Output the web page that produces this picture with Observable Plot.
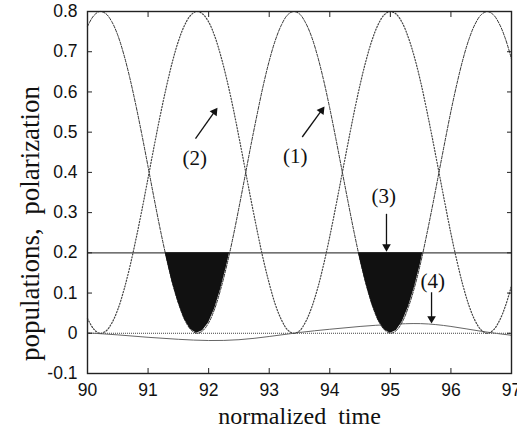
<!DOCTYPE html>
<html><head><meta charset="utf-8">
<script src="https://cdn.jsdelivr.net/npm/d3@7"></script>
<script src="https://cdn.jsdelivr.net/npm/@observablehq/plot@0.6"></script>
<style>body{margin:0;background:#fff}</style>
</head><body><div id="chart"></div>
<script>
// sample times (normalized time)
const times = [90.0,90.1,90.2,90.3,90.4,90.5,90.6,90.7,90.8,90.9,
  91.0,91.1,91.2,91.3,91.4,91.5,91.6,91.7,91.8,91.9,
  92.0,92.1,92.2,92.3,92.4,92.5,92.6,92.7,92.8,92.9,
  93.0,93.1,93.2,93.3,93.4,93.5,93.6,93.7,93.8,93.9,
  94.0,94.1,94.2,94.3,94.4,94.5,94.6,94.7,94.8,94.9,
  95.0,95.1,95.2,95.3,95.4,95.5,95.6,95.7,95.8,95.9,
  96.0,96.1,96.2,96.3,96.4,96.5,96.6,96.7,96.8,96.9,97.0];
// curve (1): population, dashed
const curve1 = [0.763,0.789,0.800,0.795,0.775,0.741,0.693,0.634,0.566,0.492,
  0.414,0.335,0.259,0.189,0.126,0.075,0.035,0.010,0.000,0.006,
  0.026,0.061,0.110,0.169,0.237,0.312,0.390,0.469,0.544,0.615,
  0.677,0.728,0.766,0.791,0.800,0.794,0.772,0.737,0.688,0.628,
  0.559,0.484,0.406,0.328,0.252,0.182,0.121,0.070,0.032,0.009,
  0.000,0.007,0.029,0.066,0.115,0.175,0.245,0.320,0.398,0.476,
  0.552,0.621,0.682,0.732,0.769,0.792,0.800,0.792,0.769,0.732,0.682];
// curve (2): population, dotted
const curve2 = [0.037,0.011,0.000,0.005,0.025,0.059,0.107,0.166,0.234,0.308,
  0.386,0.465,0.541,0.611,0.674,0.726,0.765,0.790,0.800,0.794,
  0.774,0.739,0.690,0.631,0.563,0.488,0.410,0.331,0.256,0.185,
  0.124,0.072,0.034,0.009,0.000,0.006,0.028,0.064,0.112,0.172,
  0.241,0.316,0.394,0.472,0.548,0.618,0.679,0.730,0.768,0.792,
  0.800,0.793,0.771,0.734,0.685,0.625,0.555,0.480,0.402,0.324,
  0.248,0.179,0.118,0.068,0.031,0.008,0.000,0.008,0.031,0.068,0.118];
// curve (4): polarization
const times4 = [90.0,90.5,91.0,91.5,92.0,92.5,93.0,93.5,94.0,94.5,95.0,95.5,96.0,96.5,97.0];
const curve4 = [0.001,-0.004,-0.010,-0.015,-0.018,-0.016,-0.008,0.002,0.010,0.017,0.022,0.024,0.017,0.005,-0.005];
// threshold line (3)
const threshold = 0.2;

const xTicks = [90,91,92,93,94,95,96,97];
const yTicks = [-0.1,0,0.1,0.2,0.3,0.4,0.5,0.6,0.7,0.8];

// annotations: label text, label anchor, arrow start, arrow tip (data coords)
const annLabels = ["(1)","(2)","(3)","(4)"];
const annLabelX = [93.43,91.77,94.89,95.70];
const annLabelY = [0.440,0.435,0.340,0.129];
const annArrowX1 = [93.545,91.783,94.936,95.680];
const annArrowY1 = [0.488,0.484,0.297,0.102];
const annArrowX2 = [93.913,92.146,94.936,95.680];
const annArrowY2 = [0.564,0.561,0.203,0.024];

// layout
const W = 517, H = 439, mL = 87, mR = 6, mT = 11, mB = 66;
const xDomain = [90, 97], yDomain = [-0.1, 0.8];
const kx = (W - mL - mR) / (xDomain[1] - xDomain[0]);
const ky = (H - mT - mB) / (yDomain[1] - yDomain[0]);
const headR = 3.2;

const rows = times.map((t,i) => ({t, c1: curve1[i], c2: curve2[i]}));
const rows4 = times4.map((t,i) => ({t, v: curve4[i]}));
const anns = annLabels.map((l,i) => {
  const x1 = annArrowX1[i], y1 = annArrowY1[i], x2 = annArrowX2[i], y2 = annArrowY2[i];
  const px = (x2 - x1) * kx, py = -(y2 - y1) * ky; // screen direction
  const len = Math.hypot(px, py);
  const off = 2 * Math.sqrt(headR * headR * Math.PI / (Math.sqrt(3) * 3)); // tip offset of triangle symbol
  return {l, x: annLabelX[i], y: annLabelY[i], x1, y1, x2, y2,
    hx: x2 - (px / len) * off / kx, hy: y2 + (py / len) * off / ky,
    rot: Math.atan2(px, -py) * 180 / Math.PI};
});

// filled region: curve (1) below the threshold
const fillPts = [];
for (let i = 0; i < rows.length; i++) {
  if (i > 0) {
    const a = rows[i-1].c1, b = rows[i].c1;
    if ((a - threshold) * (b - threshold) < 0) {
      const f = (threshold - a) / (b - a);
      fillPts.push({t: rows[i-1].t + f * (rows[i].t - rows[i-1].t), v: threshold});
    }
  }
  fillPts.push({t: rows[i].t, v: Math.min(rows[i].c1, threshold)});
}

const sans = "'Liberation Sans', Arial, Helvetica, sans-serif";
const serif = "'Liberation Serif', 'Times New Roman', serif";

const chart = Plot.plot({
  width: W, height: H,
  marginLeft: mL, marginRight: mR, marginTop: mT, marginBottom: mB,
  style: {background: "#fff", color: "#111"},
  x: {domain: xDomain, axis: null},
  y: {domain: yDomain, axis: null},
  marks: [
    Plot.ruleY([0], {stroke: "#444", strokeWidth: 1, strokeDasharray: "1,1"}),
    Plot.ruleY([threshold], {stroke: "#444", strokeWidth: 1.2}),
    Plot.line(rows4, {x: "t", y: "v", curve: "natural", stroke: "#666", strokeWidth: 1}),
    Plot.line(rows, {x: "t", y: "c1", curve: "catmull-rom", stroke: "#333", strokeWidth: 1, strokeDasharray: "3,1.5"}),
    Plot.line(rows, {x: "t", y: "c2", curve: "catmull-rom", stroke: "#444", strokeWidth: 1.2, strokeDasharray: "1.2,1.8"}),
    Plot.areaY(fillPts, {x: "t", y1: "v", y2: threshold, fill: "#111"}),
    Plot.link(anns, {x1: "x1", y1: "y1", x2: "hx", y2: "hy", stroke: "#111", strokeWidth: 1.3}),
    Plot.dot(anns, {x: "hx", y: "hy", symbol: "triangle", r: headR, rotate: "rot", fill: "#111", stroke: "none"}),
    Plot.text(anns, {x: "x", y: "y", text: "l", fontFamily: serif, fontSize: 21, fill: "#111"}),
    Plot.frame({stroke: "#222", strokeWidth: 1.4}),
    Plot.axisX(xTicks, {anchor: "bottom", tickSize: -5, tickPadding: 15, fontSize: 17.5, fontFamily: sans, label: null, tickFormat: d => String(d), stroke: "#222"}),
    Plot.axisX(xTicks, {anchor: "top", tickSize: -5, label: null, tickFormat: () => "", stroke: "#222"}),
    Plot.axisY(yTicks, {anchor: "left", tickSize: -5, tickPadding: 15, fontSize: 17.5, fontFamily: sans, label: null, tickFormat: d => d === 0 ? "0" : d.toFixed(1), stroke: "#222"}),
    Plot.axisY(yTicks, {anchor: "right", tickSize: -5, label: null, tickFormat: () => "", stroke: "#222"}),
    Plot.text(["normalized\u00a0 time"], {frameAnchor: "bottom", dy: 50, fontFamily: serif, fontSize: 24, fill: "#111"}),
    Plot.text(["populations,\u00a0 polarization"], {frameAnchor: "left", textAnchor: "middle", dx: -57, dy: 31, rotate: -90, fontFamily: serif, fontSize: 27, fill: "#111"})
  ]
});
document.getElementById("chart").appendChild(chart);
</script>
</body></html>
